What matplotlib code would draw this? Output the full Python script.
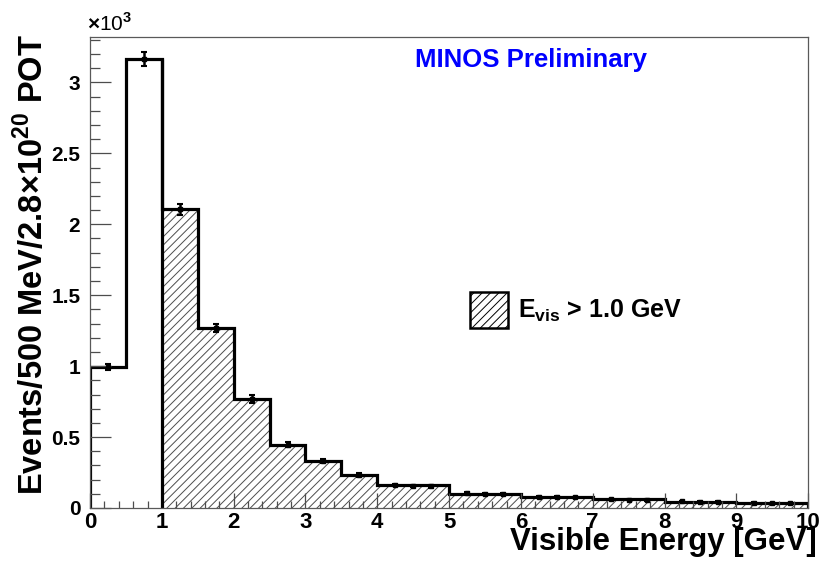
import numpy as np
import matplotlib
matplotlib.use('Agg')
import matplotlib.pyplot as plt
from matplotlib.patches import Patch
from matplotlib.ticker import MultipleLocator, FuncFormatter

plt.rcParams['font.family'] = ['Liberation Sans', 'DejaVu Sans']
plt.rcParams['font.weight'] = 'bold'
plt.rcParams['mathtext.fontset'] = 'custom'
plt.rcParams['mathtext.rm'] = 'Liberation Sans:bold'
plt.rcParams['mathtext.bf'] = 'Liberation Sans:bold'
plt.rcParams['hatch.linewidth'] = 0.7

# histogram steps (events / 500 MeV)
edges = [0, 0.5, 1.0, 1.5, 2.0, 2.5, 3.0, 3.5, 4.0, 5.0, 6.0, 7.0, 8.0, 9.0, 10.0]
counts = [995, 3165, 2105, 1270, 768, 445, 330, 232, 160, 102, 78, 60, 45, 35]

# data points with statistical errors
pt_x = [0.25, 0.75, 1.25, 1.75, 2.25, 2.75, 3.25, 3.75,
        4.25, 4.5, 4.75, 5.25, 5.5, 5.75, 6.25, 6.5, 6.75,
        7.25, 7.5, 7.75, 8.25, 8.5, 8.75, 9.25, 9.5, 9.75]
pt_y = [995, 3165, 2105, 1270, 768, 445, 330, 232,
        162, 156, 152, 104, 100, 98, 80, 76, 74,
        62, 58, 56, 46, 44, 42, 36, 34, 32]
pt_err = [20, 50, 40, 30, 25, 18, 15, 12,
          8, 8, 8, 6, 6, 6, 5, 5, 5,
          4, 4, 4, 4, 4, 4, 3, 3, 3]

cut = 1.0  # E_vis > 1.0 GeV

fig = plt.figure(figsize=(8.34, 5.61), dpi=100)
ax = fig.add_axes([0.108, 0.0945, 0.861, 0.8395])

i0 = edges.index(cut)
ax.stairs(counts[i0:], edges[i0:], fill=True, facecolor='white',
          edgecolor='0.3', hatch='////', linewidth=0)
ax.stairs(counts, edges, baseline=0, color='black', linewidth=2.3)
ax.vlines(cut, 0, counts[i0 - 1], color='black', linewidth=2.3)
ax.errorbar(pt_x, pt_y, yerr=pt_err, fmt='s', color='black', ms=3,
            elinewidth=1.8, capsize=2.5, capthick=1.5)

ax.set_xlim(0, 10)
ax.set_ylim(0, 3320)
ax.xaxis.set_major_locator(MultipleLocator(1))
ax.xaxis.set_minor_locator(MultipleLocator(0.2))
ax.yaxis.set_major_locator(MultipleLocator(500))
ax.yaxis.set_minor_locator(MultipleLocator(100))
ax.yaxis.set_major_formatter(FuncFormatter(lambda v, p: '%g' % (v / 1000)))
ax.tick_params(axis='both', which='both', direction='in',
               color='0.3', width=0.9)
ax.tick_params(axis='x', which='major', length=11, pad=3, labelsize=16)
ax.tick_params(axis='x', which='minor', length=5)
ax.tick_params(axis='y', which='major', length=15, pad=7, labelsize=15)
ax.tick_params(axis='y', which='minor', length=7.5)
for s in ax.spines.values():
    s.set_color('0.35')
    s.set_linewidth(0.9)

fig.text(0.104, 0.938, r'$\times$10$^{3}$', fontsize=15, fontweight='normal',
         ha='left', va='bottom')
ax.set_xlabel('Visible Energy [GeV]', fontsize=22.5, fontweight='bold',
              ha='right', va='top')
ax.xaxis.set_label_coords(1.0125, -0.04)
ax.set_ylabel(r'Events/500 MeV/2.8$\times$10$^{20}$ POT', fontsize=23.5,
              fontweight='bold', ha='right')
ax.yaxis.set_label_coords(-0.055, 1.006)

ax.text(0.614, 0.951, 'MINOS Preliminary', transform=ax.transAxes,
        color='blue', fontsize=18.5, fontweight='bold', ha='center',
        va='center')

handle = Patch(facecolor='white', edgecolor='black', hatch='////', linewidth=1.8)
ax.legend([handle], [r'$\mathbf{E_{vis}}$ > 1.0 GeV'], loc='center left',
          bbox_to_anchor=(0.511, 0.42), frameon=False, borderpad=0,
          handlelength=1.52, handleheight=1.85, handletextpad=0.4,
          prop={'weight': 'bold', 'size': 18})

fig.savefig('out.png', dpi=100)
